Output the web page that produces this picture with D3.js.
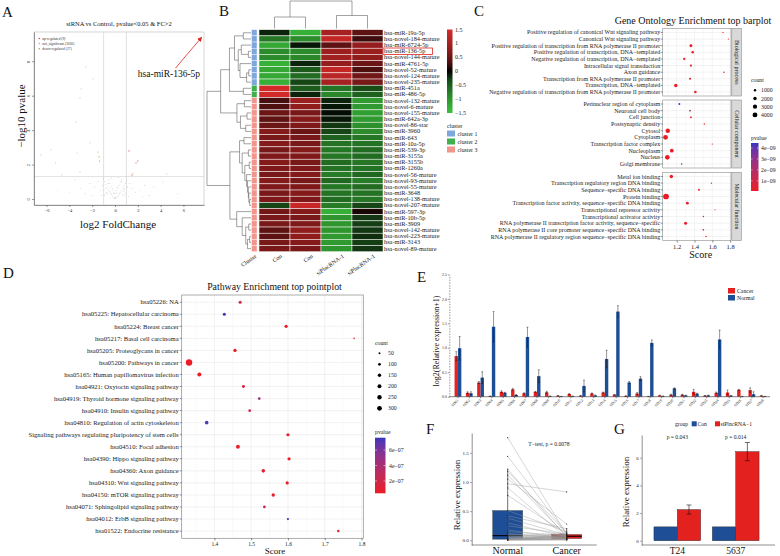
<!DOCTYPE html>
<html><head><meta charset="utf-8">
<script src="https://cdn.jsdelivr.net/npm/d3@7/dist/d3.min.js"></script>
<style>html,body{margin:0;padding:0;background:#fff;}svg{display:block;}</style>
</head><body>
<svg id="chart" width="780" height="556"></svg>
<script>
const FONT = '"Liberation Serif","Times New Roman","DejaVu Serif",serif';

// ================= DATA =================
// --- A: volcano ---
const volcTitle = 'siRNA vs Control, pvalue<0.05 & FC>2';
const volcLog2FC = [-0.1,0.1,-0.2,0.2,-0.3,0.3,-0.4,0.4,-0.5,0.5,-0.6,0.6,-0.7,0.7,-0.8,0.8,-0.9,0.9,
  -0.05,0.05,-0.15,0.15,-0.25,0.25,-0.35,0.35,-0.45,0.45,-0.55,0.55,-0.65,0.65,-0.75,0.75,-0.85,0.85,-0.95,0.95,
  -1.1,1.1,-1.3,1.3,-1.5,1.5,-1.8,1.8,-2.2,2.2,-2.6,2.6,-3.0,3.0,-3.5,3.4,-4.0,4.2,
  -1.2,1.2,-0.3,0.3,-0.6,0.6,-0.2,0.2,0.0,0.0,-0.1,0.1,-0.8,0.8,-1.0,1.0,-2.0,2.4,-5.0,5.5,
  -2.54,-1.93,-2.98,-3.07,-3.42,-2.19,-3.33,-6.5,-5.6,-5.2,-4.65,-3.07,4.56,1.58,
  -1.5,-1.4,-1.35,
  1.23,1.84,1.49,2.0];
const volcNegLog10P = [0.05,0.08,0.15,0.12,0.25,0.2,0.35,0.3,0.45,0.4,0.55,0.5,0.7,0.62,0.85,0.75,1.0,0.9,
  0.02,0.03,0.3,0.35,0.5,0.6,0.7,0.8,0.9,1.0,1.1,1.15,0.3,0.25,0.4,0.45,0.6,0.55,0.2,0.3,
  0.8,0.7,0.5,0.9,1.0,0.6,0.7,0.4,0.9,0.5,0.3,0.8,0.6,0.2,1.1,0.7,0.4,1.0,
  0.2,0.15,1.2,1.25,0.9,1.0,0.6,0.7,0.1,0.3,0.4,0.5,0.3,0.2,1.2,1.1,0.2,0.15,0.5,0.3,
  7.67,6.98,6.4,5.87,4.48,3.26,2.67,2.56,2.85,2.1,1.4,1.57,1.45,1.51,
  2.73,2.44,2.2,
  2.79,2.09,1.4,2.2];
const volcGroup = [].concat(Array(76).fill('ns'), Array(14).fill('pale'), Array(3).fill('down'), Array(4).fill('up'));
const volcLegendLabels = ['up-regulated (9)','not_significant (3036)','down-regulated (27)'];
const volcLegendKeys = ['up','ns','down'];
const volcTicksX = [-6,-4,-2,0,2,4,6];
const volcTicksY = [0,2,4,6,8];
const volcHighlight = 'hsa-miR-136-5p';

// --- B: heatmap ---
const hmGenes = ['hsa-miR-19a-5p','hsa-novel-184-mature','hsa-miR-6724-5p','hsa-miR-136-5p','hsa-novel-144-mature',
 'hsa-miR-4761-5p','hsa-novel-52-mature','hsa-novel-124-mature','hsa-novel-235-mature','hsa-miR-451a','hsa-miR-486-5p',
 'hsa-novel-132-mature','hsa-novel-6-mature','hsa-novel-155-mature','hsa-miR-642a-3p','hsa-novel-86-star','hsa-miR-3960',
 'hsa-miR-643','hsa-miR-10a-5p','hsa-miR-539-3p','hsa-miR-3155a','hsa-miR-3155b','hsa-miR-1260a','hsa-novel-56-mature',
 'hsa-novel-93-mature','hsa-novel-55-mature','hsa-miR-3648','hsa-novel-138-mature','hsa-novel-207-mature','hsa-miR-597-3p',
 'hsa-miR-10b-5p','hsa-miR-3909','hsa-novel-142-mature','hsa-novel-223-mature','hsa-miR-3143','hsa-novel-89-mature'];
const hmCon1 = [-0.1,-0.7,-1.2,-0.9,-0.9,-1.3,-1.2,-1.2,-1.3,1.45,1.45,0.25,0.3,0.5,0.4,0.5,0.7,0.6,0.7,0.6,0.65,0.7,0.65,0.6,0.7,0.65,0.6,0.65,-0.3,0.55,0.6,0.6,0.4,0.4,0.6,0.6];
const hmCon2 = [-1.3,-0.9,-0.05,-0.9,-0.85,-0.1,-0.45,-0.6,-0.3,-0.45,-0.1,0.9,0.8,0.6,0.7,0.65,0.5,0.6,0.6,0.7,0.65,0.6,0.65,0.7,0.6,0.65,0.7,0.65,1.35,0.7,0.6,0.65,0.8,0.8,0.7,0.6];
const hmSi1 = [1.0,1.3,0.4,0.9,0.95,0.85,1.3,1.2,1.0,-0.65,-0.85,-0.1,-0.05,-0.02,-0.05,-0.2,-0.3,-0.5,-0.65,-0.7,-0.7,-0.6,-0.65,-0.75,-0.55,-0.7,-0.65,-0.6,-0.75,-1.3,-1.0,-1.0,-1.0,-1.05,-1.05,-1.0];
const hmSi2 = [0.4,0.2,0.85,0.9,0.8,0.5,0.3,0.55,0.6,-0.35,-0.5,-1.05,-1.05,-1.1,-1.05,-0.95,-0.9,-0.7,-0.65,-0.6,-0.6,-0.7,-0.65,-0.55,-0.75,-0.6,-0.65,-0.7,-0.3,0.05,-0.2,-0.25,-0.2,-0.15,-0.25,-0.2];
const hmColumnLabels = ['Con','Con','siPlncRNA-1','siPlncRNA-1'];
const hmCluster = [1,1,1,1,1,1,1,1,1,2,2,3,3,3,3,3,3,3,3,3,3,3,3,3,3,3,3,3,3,3,3,3,3,3,3,3];
const hmClusterNames = ['cluster 1','cluster 2','cluster 3'];
const hmClusterColors = ['#7ea7dc','#3fb04c','#f2968c'];
const hmLegendTicks = [1.5,1,0.5,0,-0.5,-1,-1.5];
// row dendrogram [height, left, right]
const hmRowTree = [10,
  [6.9,
    [4.9, [3.75, [1.75,0,1], [2.9, [2.2,2,[0.6,3,4]], [2.5,5,[1.0,[0.5,6,7],8]]]], [1.75,9,10]],
    [3.2, [1.5,11,12], [2.4,[0.9,13,14],[1.2,15,16]]]],
  [4.8,
    [2.6, [1.6,17,18], [2.0,[0.6,19,20],[1.4,[0.4,21,22],[1.0,23,[0.8,24,[0.6,25,[0.5,26,[0.3,27,28]]]]]]]],
    [3.25, 29, [2.0,30,[1.2,[0.5,31,32],[0.8,[0.3,33,34],35]]]]]];
const hmColTree = [27.5, [11.5,0,1], [13,2,3]];

// --- C: GO ---
const goCategories = ['Biological process','Cellular component','Molecular function'];
const goTerms = ['Positive regulation of canonical Wnt signaling pathway','Canonical Wnt signaling pathway',
 'Positive regulation of transcription from RNA polymerase II promoter','Positive regulation of transcription, DNA\u2212templated',
 'Negative regulation of transcription, DNA\u2212templated','Intracellular signal transduction','Axon guidance',
 'Transcription from RNA polymerase II promoter','Transcription, DNA\u2212templated',
 'Negative regulation of transcription from RNA polymerase II promoter',
 'Perinuclear region of cytoplasm','Neuronal cell body','Cell junction','Postsynaptic density','Cytosol','Cytoplasm',
 'Transcription factor complex','Nucleoplasm','Nucleus','Golgi membrane',
 'Metal ion binding','Transcription regulatory region DNA binding','Sequence\u2212specific DNA binding','Protein binding',
 'Transcription factor activity, sequence\u2212specific DNA binding','Transcriptional repressor activity',
 'Transcriptional activator activity','RNA polymerase II transcription factor activity, sequence\u2212specific',
 'RNA polymerase II core promoter sequence\u2212specific  DNA binding','RNA polymerase II regulatory region sequence\u2212specific DNA binding'];
const goCategory = [0,0,0,0,0,0,0,0,0,0, 1,1,1,1,1,1,1,1,1,1, 2,2,2,2,2,2,2,2,2,2];
const goScore = [1.72,1.78,1.36,1.38,1.285,1.36,1.73,1.35,1.19,1.41, 1.23,1.35,1.36,1.51,1.10,1.075,1.60,1.145,1.095,1.256,
                 1.14,1.59,1.45,1.08,1.32,1.63,1.50,1.30,1.50,1.53];
const goCount = [250,200,1400,1100,900,800,400,700,2000,1000, 600,500,600,300,3300,3800,250,2400,3600,450,
                 1900,300,700,5500,1300,200,350,1500,450,400];
const goPvalue = [1e-10,1e-10,1e-10,1e-10,1e-10,2e-10,1e-10,1e-10,1e-10,1e-10, 4.4e-9,2.6e-9,1e-10,1e-10,1e-10,1e-10,1e-10,1e-10,1e-10,3.1e-9,
                  1e-10,1e-10,1e-10,1e-10,1e-10,1e-10,1e-10,1e-10,1e-10,1e-10];
const goCountBreaks = [1000,2000,3000,4000];
const goPvalueTicks = [4e-9,3e-9,2e-9,1e-9];
const goScoreTicks = [1.2,1.4,1.6,1.8];

// --- D: KEGG ---
const kgTerms = ['hsa05226: NA','hsa05225: Hepatocellular carcinoma','hsa05224: Breast cancer','hsa05217: Basal cell carcinoma',
 'hsa05205: Proteoglycans in cancer','hsa05200: Pathways in cancer','hsa05165: Human papillomavirus infection',
 'hsa04921: Oxytocin signaling pathway','hsa04919: Thyroid hormone signaling pathway','hsa04910: Insulin signaling pathway',
 'hsa04810: Regulation of actin cytoskeleton','Signaling pathways regulating pluripotency of stem cells','hsa04510: Focal adhesion',
 'hsa04390: Hippo signaling pathway','hsa04360: Axon guidance','hsa04310: Wnt signaling pathway','hsa04150: mTOR signaling pathway',
 'hsa04071: Sphingolipid signaling pathway','hsa04012: ErbB signaling pathway','hsa01522: Endocrine resistance'];
const kgScore = [1.47,1.427,1.595,1.78,1.456,1.331,1.359,1.479,1.522,1.496,1.379,1.60,1.464,1.603,1.533,1.598,1.56,1.536,1.60,1.737];
const kgCount = [120,130,140,35,150,540,210,115,90,100,170,130,190,135,165,135,150,100,65,75];
const kgPvalue = [2.0e-7,7.5e-7,5e-8,5e-8,5e-8,5e-8,5e-8,1.4e-7,4.6e-7,2.2e-7,7.0e-7,5e-8,5e-8,5e-8,8e-8,5e-8,6e-8,2.5e-7,7.3e-7,5e-8];
const kgCountBreaks = [50,100,150,200,250,300];
const kgPvalueTicks = [6e-7,4e-7,2e-7];
const kgScoreTicks = [1.4,1.5,1.6,1.7,1.8];

// --- E: expression bars ---
const eSamples = ['SD01','SD02','SD03','SD04','SD05','SD06','SD07','SD08','SD09','SD10','SD11','SD12','SD13','SD14',
                  'SD15','SD16','SD17','SD18','SD19','SD20','SD21','SD22','SD23','SD24','SD25','SD26','SD27','SD28'];
const eCancer = [0.83,0.08,0.29,0.01,0.10,0.15,0.07,0.10,0.09,0.02,0.055,0.02,0.065,0.085,0.04,0.015,0.065,0.005,0.025,0.04,0.04,0.10,0.02,0.08,0.085,0.14,0.135,0.02];
const eCancerSD = [0.09,0.02,0.02,0.005,0.02,0.02,0.01,0.01,0.02,0.005,0.01,0.005,0.01,0.01,0.005,0.005,0.02,0.003,0.005,0.01,0.01,0.05,0.005,0.015,0.05,0.01,0.045,0.005];
const eNormal = [0.99,0.07,0.39,1.43,0.08,0.035,1.22,0.42,0.01,0.005,0.01,0.22,0.025,0.77,1.74,0.29,0.37,1.10,0.01,0.17,0.025,0.06,0.025,1.17,0.02,0.005,0.05,0.005];
const eNormalSD = [0.24,0.03,0.12,0.31,0.01,0.01,0.20,0.13,0.005,0.003,0.005,0.12,0.01,0.18,0.12,0.02,0.04,0.06,0.005,0.01,0.005,0.01,0.005,0.19,0.005,0.003,0.05,0.003];
const eGroups = ['Cancer','Normal'];
const eTicks = [0,0.5,1,1.5,2,2.5];

// --- F: paired box ---
const fNormal = [1.76,1.44,1.22,1.18,1.12,1.05,0.97,0.90,0.77,0.51,0.42,0.38,0.30,0.25,0.18,0.15,0.12,0.10,0.08,0.07,0.06,0.05,0.04,0.04,0.03,0.03,0.025,0.02,0.02,0.02,0.015,0.015,0.01,0.01,0.01,0.005,0.00];
const fCancer = [0.10,0.12,0.05,0.13,0.07,0.28,0.83,0.04,0.11,0.15,0.20,0.09,0.06,0.105,0.03,0.08,0.02,0.065,0.12,0.045,0.095,0.01,0.07,0.085,0.02,0.055,0.035,0.05,0.075,0.015,0.09,0.01,0.02,0.07,0.03,0.015,0.005];
const fGroups = ['Normal','Cancer'];
const fTicks = [0,0.5,1,1.5];
const fTest = 'T\u2212test, p = 0.0078';

// --- G: bars ---
const gCells = ['T24','5637'];
const gCon = [1,1];
const gSi = [2.25,6.44];
const gSiSD = [0.33,0.66];
const gPtext = ['p = 0.043','p = 0.014'];
const gGroups = ['Con','siPlncRNA\u22121'];
const gTicks = [0,2,4,6];

// ================= DRAW =================
const svg = d3.select('#chart').attr('font-family', FONT);
const RED = '#e3211f', BLUE = '#1d4e96';
function txt(g, x, y, s, fs, anchor, fill) {
  return g.append('text').attr('x', x).attr('y', y).attr('font-size', fs)
    .attr('text-anchor', anchor || 'start').attr('fill', fill || '#111').text(s);
}
function styleAxis(sel, fs, col) {
  col = col || '#333';
  sel.attr('font-family', FONT).attr('font-size', fs);
  sel.selectAll('path.domain').attr('stroke', col).attr('stroke-width', 0.6);
  sel.selectAll('.tick line').attr('stroke', col).attr('stroke-width', 0.6);
  sel.selectAll('.tick text').attr('fill', '#222');
}
function line(g, x1, y1, x2, y2, col, w) {
  return g.append('line').attr('x1', x1).attr('y1', y1).attr('x2', x2).attr('y2', y2)
    .attr('stroke', col || '#000').attr('stroke-width', w || 0.6);
}
const sci = (v, e) => (v / Math.pow(10, -e)).toFixed(0) + 'e\u22120' + e;
// panel letters
[['A',2,17],['B',219,16],['C',474,16],['D',3,278],['E',417,282],['F',426,434],['G',614,434]]
  .forEach(([l,x,y]) => txt(svg, x, y, l, 15));

// ---------- A ----------
(function(){
  const g = svg.append('g');
  const L = 34, R = 204, T = 32, B = 205;
  const x = d3.scaleLinear().domain([-7.1, 7.8]).range([L, R]);
  const y = d3.scaleLinear().domain([-0.35, 9.7]).range([B, T]);
  g.append('rect').attr('x', L).attr('y', T).attr('width', R - L).attr('height', B - T)
    .attr('fill', '#fff').attr('stroke', '#bbb').attr('stroke-width', 0.6);
  [-1, 1].forEach(v => line(g, x(v), T, x(v), B, '#d4d4d4', 0.7));
  line(g, L, y(-Math.log10(0.05)), R, y(-Math.log10(0.05)), '#d4d4d4', 0.7);
  const col = {ns: '#b5b5b5', pale: '#f3bfa0', up: '#e8483a', down: '#79c043'};
  g.selectAll('circle.v').data(d3.range(volcLog2FC.length)).join('circle')
    .attr('cx', i => x(volcLog2FC[i])).attr('cy', i => y(volcNegLog10P[i]))
    .attr('r', i => volcGroup[i] === 'ns' ? 0.45 : 0.6).attr('fill', i => col[volcGroup[i]]);
  const ax = g.append('g').attr('transform', `translate(0,${B})`)
    .call(d3.axisBottom(x).tickValues(volcTicksX).tickSize(2).tickSizeOuter(0).tickPadding(1.5)
      .tickFormat(d => d < 0 ? '\u2212' + Math.abs(d) : d));
  styleAxis(ax, 4.5, '#555');
  const ay = g.append('g').attr('transform', `translate(${L},0)`)
    .call(d3.axisLeft(y).tickValues(volcTicksY).tickSize(2).tickSizeOuter(0));
  styleAxis(ay, 4.5, '#555');
  ay.selectAll('.tick text').attr('x', 0).attr('dy', 0).attr('text-anchor', 'middle')
    .attr('transform', 'translate(-4,0) rotate(-90)');
  txt(g, (L + R) / 2, 26, volcTitle, 6.5, 'middle');
  txt(g, 118, 228, 'log2 FoldChange', 11, 'middle');
  txt(g, 0, 0, '\u2212log10 pvalue', 11, 'middle').attr('transform', 'translate(25,116) rotate(-90)');
  volcLegendKeys.forEach((k, i) => {
    const yy = 38.5 + i * 5.1;
    g.append('circle').attr('cx', 39.3).attr('cy', yy).attr('r', 0.8).attr('fill', col[k]);
    txt(g, 42.3, yy + 1.2, volcLegendLabels[i], 3.6, 'start', '#333');
  });
  const defs = svg.append('defs');
  defs.append('marker').attr('id', 'arr').attr('viewBox', '0 0 10 10').attr('refX', 9).attr('refY', 5)
    .attr('markerWidth', 6).attr('markerHeight', 6).attr('orient', 'auto')
    .append('path').attr('d', 'M0,0 L10,5 L0,10 z').attr('fill', '#e0231f');
  line(g, x(5.3), y(7.6), x(7.6), y(9.4), '#e0231f', 0.8).attr('marker-end', 'url(#arr)');
  txt(g, x(2.0), y(7.1), volcHighlight, 9.5, 'start');
})();

// ---------- B ----------
(function(){
  const g = svg.append('g');
  const keys = ['c1','c2','s1','s2'];
  const vals = [hmCon1, hmCon2, hmSi1, hmSi2];
  const x = d3.scaleBand().domain(keys).range([259, 383]);
  const y = d3.scaleBand().domain(hmGenes).range([29.7, 251.7]);
  const color = d3.scaleLinear().domain([-1.5, 0, 1.5]).range(['#3cc03c', '#000000', '#d62a2a'])
    .interpolate(d3.interpolateRgb.gamma(1.6)).clamp(true);
  hmGenes.forEach((gene, i) => {
    keys.forEach((k, j) => {
      g.append('rect').attr('x', x(k)).attr('y', y(gene)).attr('width', x.bandwidth()).attr('height', y.bandwidth())
        .attr('fill', color(vals[j][i])).attr('stroke', '#fff').attr('stroke-width', 0.5);
    });
    g.append('rect').attr('x', 251.5).attr('y', y(gene)).attr('width', 5.5).attr('height', y.bandwidth())
      .attr('fill', hmClusterColors[hmCluster[i] - 1]).attr('stroke', '#fff').attr('stroke-width', 0.4);
    txt(g, 384, y(gene) + y.bandwidth() / 2 + 2, gene, 6.3, 'start', '#222');
  });
  g.append('rect').attr('x', 383).attr('y', y(volcHighlight) - 0.2).attr('width', 49.5).attr('height', y.bandwidth() + 0.4)
    .attr('fill', 'none').attr('stroke', '#e0231f').attr('stroke-width', 0.8);
  const hx = h => 251 - h * 4.4;
  (function rec(n) {
    if (typeof n === 'number') return [y(hmGenes[n]) + y.bandwidth() / 2, 0];
    const a = rec(n[1]), b = rec(n[2]);
    line(g, hx(n[0]), a[0], hx(n[0]), b[0], '#444', 0.5);
    line(g, hx(n[0]), a[0], hx(a[1]), a[0], '#444', 0.5);
    line(g, hx(n[0]), b[0], hx(b[1]), b[0], '#444', 0.5);
    return [(a[0] + b[0]) / 2, n[0]];
  })(hmRowTree);
  const vy = h => 28.5 - h;
  (function rec(n) {
    if (typeof n === 'number') return [x(keys[n]) + x.bandwidth() / 2, 0];
    const a = rec(n[1]), b = rec(n[2]);
    line(g, a[0], vy(n[0]), b[0], vy(n[0]), '#444', 0.5);
    line(g, a[0], vy(n[0]), a[0], vy(a[1]), '#444', 0.5);
    line(g, b[0], vy(n[0]), b[0], vy(b[1]), '#444', 0.5);
    return [(a[0] + b[0]) / 2, n[0]];
  })(hmColTree);
  txt(g, 0, 0, 'Cluster', 6, 'end').attr('transform', 'translate(257,257) rotate(-35)');
  keys.forEach((k, j) => txt(g, 0, 0, hmColumnLabels[j], 6, 'end')
    .attr('transform', `translate(${x(k) + x.bandwidth() / 2 + 8},257) rotate(-35)`));
  const defs = svg.append('defs');
  const grad = defs.append('linearGradient').attr('id', 'hmgrad').attr('x1', 0).attr('y1', 1).attr('x2', 0).attr('y2', 0);
  d3.range(0, 1.0001, 0.1).forEach(t => grad.append('stop').attr('offset', t).attr('stop-color', color(-1.5 + 3 * t)));
  const cy = d3.scaleLinear().domain([-1.5, 1.5]).range([113, 29.5]);
  g.append('rect').attr('x', 447).attr('y', 29.5).attr('width', 5.5).attr('height', 83.5).attr('fill', 'url(#hmgrad)');
  hmLegendTicks.forEach(v => txt(g, 455, cy(v) + 2, v < 0 ? '\u2212' + Math.abs(v) : String(v), 6, 'start', '#222'));
  txt(g, 447, 127.5, 'cluster', 5.8, 'start', '#222');
  hmClusterNames.forEach((nm, i) => {
    g.append('rect').attr('x', 447).attr('y', 130.5 + i * 8).attr('width', 8).attr('height', 6).attr('fill', hmClusterColors[i]);
    txt(g, 457.5, 135.7 + i * 8, nm, 5.8, 'start', '#222');
  });
})();

// ---------- C ----------
(function(){
  const g = svg.append('g');
  const L = 662.7, R = 731;
  const x = d3.scaleLinear().domain([1.043, 1.81]).range([L, R]);
  const facets = [[28.5, 96], [100, 168], [172.5, 240.5]];
  const rscale = d3.scaleSqrt().domain([0, 4000]).range([0, 2.45]);
  const pcol = d3.scaleSequential(d3.interpolateLab('#ec1c24', '#3737bd')).domain([0.07e-9, 4.46e-9]).clamp(true);
  txt(g, 693, 24, 'Gene Ontology Enrichment top barplot', 10, 'middle');
  goCategories.forEach((cat, ci) => {
    const [top, bot] = facets[ci];
    const idx = d3.range(goTerms.length).filter(i => goCategory[i] === ci);
    const y = d3.scalePoint().domain(idx.map(i => goTerms[i])).range([top, bot]).padding(0.6);
    g.append('rect').attr('x', L).attr('y', top).attr('width', R - L).attr('height', bot - top).attr('fill', '#fff');
    [1.1, 1.3, 1.5, 1.7].forEach(v => line(g, x(v), top, x(v), bot, '#f3f3f3', 0.4));
    goScoreTicks.forEach(v => line(g, x(v), top, x(v), bot, '#e6e6e6', 0.5));
    idx.forEach(i => line(g, L, y(goTerms[i]), R, y(goTerms[i]), '#e6e6e6', 0.5));
    g.append('rect').attr('x', L).attr('y', top).attr('width', R - L).attr('height', bot - top)
      .attr('fill', 'none').attr('stroke', '#8a8a8a').attr('stroke-width', 0.6);
    idx.forEach(i => {
      const yy = y(goTerms[i]);
      line(g, L - 2, yy, L, yy, '#333', 0.5);
      txt(g, L - 2.5, yy + 2, goTerms[i], 6, 'end', '#222');
      g.append('circle').attr('cx', x(goScore[i])).attr('cy', yy).attr('r', rscale(goCount[i])).attr('fill', pcol(goPvalue[i]));
    });
    g.append('rect').attr('x', R + 0.8).attr('y', top).attr('width', 9.5).attr('height', bot - top)
      .attr('fill', '#d9d9d9').attr('stroke', '#8a8a8a').attr('stroke-width', 0.6);
    txt(g, 0, 0, cat, 6, 'middle', '#222').attr('transform', `translate(${R + 3.6},${(top + bot) / 2}) rotate(90)`);
  });
  const ax = g.append('g').attr('transform', 'translate(0,240.5)')
    .call(d3.axisBottom(x).tickValues(goScoreTicks).tickSize(2).tickSizeOuter(0).tickPadding(1.5).tickFormat(d3.format('.1f')));
  styleAxis(ax, 6.5, '#333');
  ax.select('path.domain').remove();
  txt(g, 700.7, 257.5, 'Score', 10, 'middle');
  txt(g, 751, 82, 'count', 5.8, 'start', '#222');
  goCountBreaks.forEach((c, i) => {
    const yy = 90.3 + i * 8.2;
    g.append('circle').attr('cx', 755).attr('cy', yy).attr('r', rscale(c)).attr('fill', '#000');
    txt(g, 761, yy + 2, String(c), 5.8, 'start', '#222');
  });
  txt(g, 751, 139.5, 'pvalue', 5.8, 'start', '#222');
  const defs = svg.append('defs');
  const gr = defs.append('linearGradient').attr('id', 'gograd').attr('x1', 0).attr('y1', 1).attr('x2', 0).attr('y2', 0);
  d3.range(0, 1.0001, 0.1).forEach(t => gr.append('stop').attr('offset', t).attr('stop-color', pcol(0.07e-9 + t * 4.39e-9)));
  g.append('rect').attr('x', 751).attr('y', 143).attr('width', 7.5).attr('height', 48).attr('fill', 'url(#gograd)');
  const py = d3.scaleLinear().domain([0.07e-9, 4.46e-9]).range([191, 143]);
  goPvalueTicks.forEach(v => {
    line(g, 751, py(v), 752.5, py(v), '#fff', 0.5); line(g, 757, py(v), 758.5, py(v), '#fff', 0.5);
    txt(g, 761, py(v) + 2, sci(v, 9), 5.8, 'start', '#222');
  });
})();

// ---------- D ----------
(function(){
  const g = svg.append('g');
  const L = 181.7, R = 363.3, T = 295, B = 538.3;
  const x = d3.scaleLinear().domain([1.311, 1.805]).range([L, R]);
  const y = d3.scalePoint().domain(kgTerms).range([T, B]).padding(0.6);
  const rscale = d3.scaleSqrt().domain([0, 300]).range([0, 2.4]);
  const pcol = d3.scaleSequential(d3.interpolateLab('#ec1c24', '#3737bd')).domain([0.4e-7, 7.6e-7]).clamp(true);
  g.append('rect').attr('x', L).attr('y', T).attr('width', R - L).attr('height', B - T).attr('fill', '#fff');
  [1.35, 1.45, 1.55, 1.65, 1.75].forEach(v => line(g, x(v), T, x(v), B, '#f3f3f3', 0.4));
  kgScoreTicks.forEach(v => line(g, x(v), T, x(v), B, '#e4e4e4', 0.5));
  kgTerms.forEach(t => line(g, L, y(t), R, y(t), '#e4e4e4', 0.5));
  g.append('rect').attr('x', L).attr('y', T).attr('width', R - L).attr('height', B - T)
    .attr('fill', 'none').attr('stroke', '#8a8a8a').attr('stroke-width', 0.7);
  kgTerms.forEach((t, i) => {
    line(g, L - 2, y(t), L, y(t), '#333', 0.5);
    txt(g, L - 3, y(t) + 2.2, t, 6.6, 'end', '#222');
    g.append('circle').attr('cx', x(kgScore[i])).attr('cy', y(t)).attr('r', rscale(kgCount[i])).attr('fill', pcol(kgPvalue[i]));
  });
  const ax = g.append('g').attr('transform', `translate(0,${B})`)
    .call(d3.axisBottom(x).tickValues(kgScoreTicks).tickSize(2).tickSizeOuter(0).tickPadding(1.5).tickFormat(d3.format('.1f')));
  styleAxis(ax, 5.5, '#333');
  ax.select('path.domain').remove();
  txt(g, (L + R) / 2 + 2, 290, 'Pathway Enrichment top pointplot', 9.8, 'middle');
  txt(g, 275, 554, 'Score', 9, 'middle');
  txt(g, 375, 345, 'count', 5.8, 'start', '#222');
  kgCountBreaks.forEach((c, i) => {
    const yy = 353.3 + i * 11;
    g.append('circle').attr('cx', 379.5).attr('cy', yy).attr('r', rscale(c)).attr('fill', '#000');
    txt(g, 388, yy + 2, String(c), 5.8, 'start', '#222');
  });
  txt(g, 375, 434, 'pvalue', 5.8, 'start', '#222');
  const defs = svg.append('defs');
  const gr = defs.append('linearGradient').attr('id', 'kggrad').attr('x1', 0).attr('y1', 1).attr('x2', 0).attr('y2', 0);
  d3.range(0, 1.0001, 0.1).forEach(t => gr.append('stop').attr('offset', t).attr('stop-color', pcol(0.4e-7 + t * 7.2e-7)));
  g.append('rect').attr('x', 375).attr('y', 437.7).attr('width', 10.5).attr('height', 55.6).attr('fill', 'url(#kggrad)');
  const py = d3.scaleLinear().domain([0.4e-7, 7.6e-7]).range([493.3, 437.7]);
  kgPvalueTicks.forEach(v => {
    line(g, 375, py(v), 377, py(v), '#fff', 0.5); line(g, 383.5, py(v), 385.5, py(v), '#fff', 0.5);
    txt(g, 389, py(v) + 2, sci(v, 7), 5.8, 'start', '#222');
  });
})();

// ---------- E ----------
(function(){
  const g = svg.append('g');
  const x = d3.scaleBand().domain(eSamples).range([452.3, 768.8]).paddingInner(0.4).paddingOuter(0.2);
  const xi = d3.scaleBand().domain(eGroups).range([0, x.bandwidth()]);
  const y = d3.scaleLinear().domain([0, 2.5]).range([396.7, 274.4]);
  const series = [[eCancer, eCancerSD, RED], [eNormal, eNormalSD, BLUE]];
  eSamples.forEach((s, i) => {
    series.forEach(([m, sd, c], k) => {
      const bx = x(s) + xi(eGroups[k]);
      g.append('rect').attr('x', bx).attr('y', y(m[i])).attr('width', xi.bandwidth()).attr('height', y(0) - y(m[i])).attr('fill', c);
      const cx = bx + xi.bandwidth() / 2;
      line(g, cx, y(m[i] - sd[i]), cx, y(m[i] + sd[i]), '#111', 0.45);
      line(g, cx - 0.9, y(m[i] + sd[i]), cx + 0.9, y(m[i] + sd[i]), '#111', 0.45);
      line(g, cx - 0.9, y(m[i] - sd[i]), cx + 0.9, y(m[i] - sd[i]), '#111', 0.45);
    });
  });
  const ay = g.append('g').attr('transform', 'translate(449.3,0)')
    .call(d3.axisLeft(y).tickValues(eTicks).tickSize(1.5).tickSizeOuter(0).tickPadding(1).tickFormat(d3.format('.1f')));
  styleAxis(ay, 3.8, '#555');
  ay.select('path.domain').attr('stroke-dasharray', '1.5,1.2');
  const ax = g.append('g').attr('transform', 'translate(0,396.7)')
    .call(d3.axisBottom(x).tickSize(1.5).tickSizeOuter(0));
  styleAxis(ax, 3.8, '#333');
  ax.select('path.domain').attr('d', 'M449.3,0H770');
  ax.selectAll('.tick text').attr('text-anchor', 'end').attr('dy', 0).attr('y', 0)
    .attr('transform', 'translate(1,4) rotate(-45)');
  txt(g, 0, 0, 'log2(Relative expression+1)', 8, 'middle').attr('transform', 'translate(439,341) rotate(-90)');
  [[RED, 'Cancer'], [BLUE, 'Normal']].forEach(([c, l], i) => {
    g.append('rect').attr('x', 728).attr('y', 288 + i * 7).attr('width', 7).attr('height', 5.5).attr('fill', c);
    txt(g, 737, 293 + i * 7, l, 5.8, 'start', '#222');
  });
})();

// ---------- F ----------
(function(){
  const g = svg.append('g');
  const x = d3.scalePoint().domain(fGroups).range([507.7, 566.7]);
  const y = d3.scaleLinear().domain([-0.08, 1.84]).range([545, 433]);
  const bw = 30;
  function stats(arr) {
    const s = arr.slice().sort(d3.ascending);
    const q1 = d3.quantile(s, 0.25), med = d3.quantile(s, 0.5), q3 = d3.quantile(s, 0.75), iqr = q3 - q1;
    return {q1, med, q3, lo: d3.min(s.filter(v => v >= q1 - 1.5 * iqr)), hi: d3.max(s.filter(v => v <= q3 + 1.5 * iqr))};
  }
  [[fNormal, BLUE], [fCancer, RED]].forEach(([arr, c], k) => {
    const st = stats(arr), cx = x(fGroups[k]);
    line(g, cx, y(st.hi), cx, y(st.q3), '#111', 0.6);
    line(g, cx, y(st.lo), cx, y(st.q1), '#111', 0.6);
    g.append('rect').attr('x', cx - bw / 2).attr('y', y(st.q3)).attr('width', bw).attr('height', y(st.q1) - y(st.q3))
      .attr('fill', c).attr('stroke', '#333').attr('stroke-width', 0.4);
    line(g, cx - bw / 2, y(st.med), cx + bw / 2, y(st.med), '#000', 1.1);
  });
  fNormal.forEach((v, i) => line(g, x('Normal'), y(v), x('Cancer'), y(fCancer[i]), '#9a9a9a', 0.4));
  fNormal.forEach((v, i) => {
    g.append('circle').attr('cx', x('Normal')).attr('cy', y(v)).attr('r', 0.55).attr('fill', '#222');
    g.append('circle').attr('cx', x('Cancer')).attr('cy', y(fCancer[i])).attr('r', 0.55).attr('fill', '#222');
  });
  const ay = g.append('g').attr('transform', 'translate(471.7,0)')
    .call(d3.axisLeft(y).tickValues(fTicks).tickSize(1.5).tickSizeOuter(0).tickPadding(1.5).tickFormat(d3.format('.1f')));
  styleAxis(ay, 5, '#444');
  line(g, 471.7, 545, 596.7, 545, '#444', 0.6);
  fGroups.forEach(gname => txt(g, x(gname), 553.5, gname, 10, 'middle'));
  txt(g, 549, 446, fTest, 5.6, 'middle', '#222');
  txt(g, 0, 0, 'Relative expression', 9, 'middle').attr('transform', 'translate(460,495) rotate(-90)');
})();

// ---------- G ----------
(function(){
  const g = svg.append('g');
  const x = d3.scaleBand().domain(gCells).range([645.3, 767.7]).paddingInner(0.2).paddingOuter(0.148);
  const xi = d3.scaleBand().domain(gGroups).range([0, x.bandwidth()]);
  const y = d3.scaleLinear().domain([-0.31, 7.64]).range([545, 435]);
  gCells.forEach((c, i) => {
    [[gCon[i], 0, BLUE], [gSi[i], gSiSD[i], RED]].forEach(([v, sd, col], k) => {
      const bx = x(c) + xi(gGroups[k]);
      g.append('rect').attr('x', bx).attr('y', y(v)).attr('width', xi.bandwidth()).attr('height', y(0) - y(v))
        .attr('fill', col).attr('stroke', '#222').attr('stroke-width', 0.4);
      if (sd > 0) {
        const cx = bx + xi.bandwidth() / 2;
        line(g, cx, y(v - sd), cx, y(v + sd), '#111', 0.6);
        line(g, cx - 2.5, y(v + sd), cx + 2.5, y(v + sd), '#111', 0.6);
        line(g, cx - 2.5, y(v - sd), cx + 2.5, y(v - sd), '#111', 0.6);
      }
    });
    txt(g, x(c) + x.bandwidth() / 2, 438.5, gPtext[i], 5.6, 'middle', '#222');
    txt(g, x(c) + x.bandwidth() / 2, 553.5, c, 9.5, 'middle');
  });
  const ay = g.append('g').attr('transform', 'translate(641.7,0)')
    .call(d3.axisLeft(y).tickValues(gTicks).tickSize(1.5).tickSizeOuter(0).tickPadding(1.5));
  styleAxis(ay, 5, '#444');
  line(g, 641.7, 545, 775, 545, '#444', 0.6);
  txt(g, 0, 0, 'Relative expression', 9, 'middle').attr('transform', 'translate(629,492) rotate(-90)');
  txt(g, 675, 426, 'group', 5.6, 'start', '#222');
  g.append('rect').attr('x', 691.7).attr('y', 421.3).attr('width', 5).attr('height', 5).attr('fill', BLUE);
  txt(g, 697.5, 426, gGroups[0], 5.6, 'start', '#222');
  g.append('rect').attr('x', 715).attr('y', 421.3).attr('width', 5).attr('height', 5).attr('fill', RED);
  txt(g, 720.5, 426, gGroups[1], 5.6, 'start', '#222');
})();
</script>
</body></html>
